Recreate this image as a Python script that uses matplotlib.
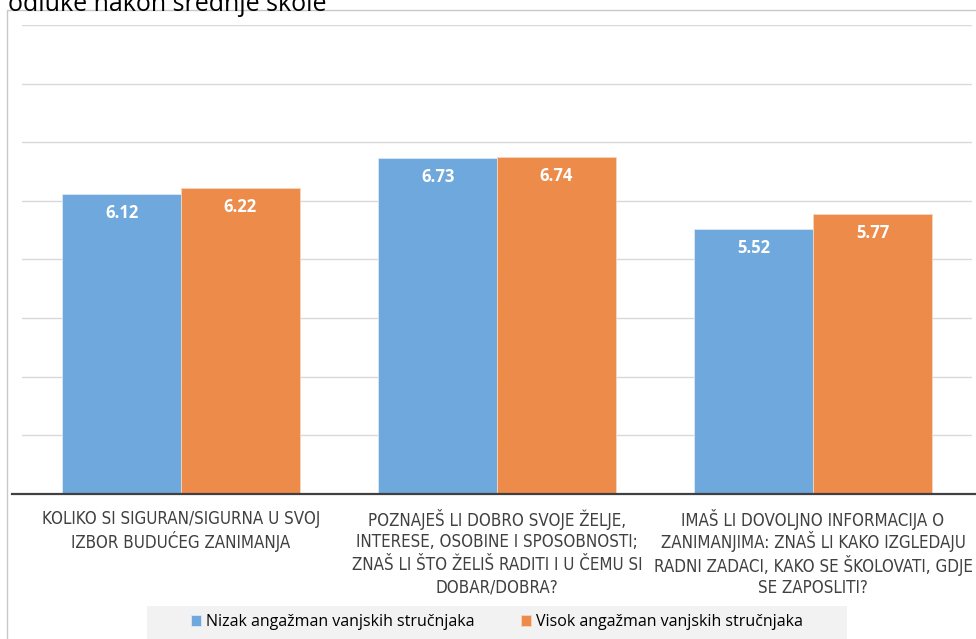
import matplotlib.pyplot as plt
import numpy as np
from matplotlib.patches import Rectangle
from matplotlib.lines import Line2D

categories = [
    'KOLIKO SI SIGURAN/SIGURNA U SVOJ\nIZBOR BUDUĆEG ZANIMANJA',
    'POZNAJEŠ LI DOBRO SVOJE ŽELJE,\nINTERESE, OSOBINE I SPOSOBNOSTI;\nZNAŠ LI ŠTO ŽELIŠ RADITI I U ČEMU SI\nDOBAR/DOBRA?',
    'IMAŠ LI DOVOLJNO INFORMACIJA O\nZANIMANJIMA: ZNAŠ LI KAKO IZGLEDAJU\nRADNI ZADACI, KAKO SE ŠKOLOVATI, GDJE\nSE ZAPOSLITI?',
]
series_names = ['Nizak angažman vanjskih stručnjaka', 'Visok angažman vanjskih stručnjaka']
nizak = [6.12, 6.73, 5.52]
visok = [6.22, 6.74, 5.77]
title = 'odluke nakon srednje škole'

plt.rcParams['font.family'] = ['DejaVu Sans']

fig = plt.figure(figsize=(9.76, 6.39), dpi=100)
W, H = 976, 639
ax = fig.add_axes([22 / W, 1 - 494 / H, (972 - 22) / W, (494 - 25) / H])

# outer chart frame
fig.patches.append(Rectangle((7 / W, -0.01), 1.0, 1 - 10 / H + 0.01, transform=fig.transFigure,
                             fill=False, edgecolor='#c8c8c8', linewidth=1.0))
fig.text(8 / W, 1 - 11 / H, title, fontsize=18, family=['Open Sans', 'DejaVu Sans'],
         va='baseline', ha='left', color='#000000')

x = np.arange(len(categories))
w = 0.376
colors = ['#6fa8dc', '#ed8b4b']
b1 = ax.bar(x - w / 2, nizak, w, bottom=0, color=colors[0], edgecolor='#dbe8f5', linewidth=0.6,
            label=series_names[0], zorder=3)
b2 = ax.bar(x + w / 2, visok, w, bottom=0, color=colors[1], edgecolor='#f5d5c0', linewidth=0.6,
            label=series_names[1], zorder=3)

for bars, vals in ((b1, nizak), (b2, visok)):
    for r, v in zip(bars, vals):
        ax.annotate('{:.2f}'.format(v), xy=(r.get_x() + r.get_width() / 2, v),
                    xytext=(0, -13.5), textcoords='offset points', ha='center', va='center',
                    color='white', fontweight='bold', fontsize=12,
                    family=['Open Sans', 'DejaVu Sans'], zorder=4)

ax.set_ylim(1, 9)
ax.set_xlim(-0.503, 2.503)
ax.set_yticks(np.arange(2, 10))
ax.yaxis.grid(True, color='#d9d9d9', linewidth=1.0, zorder=0)
ax.tick_params(axis='y', length=0, labelleft=False)
ax.tick_params(axis='x', length=0, labelbottom=False)
for s in ['top', 'right', 'left', 'bottom']:
    ax.spines[s].set_visible(False)
fig.lines.append(Line2D([12 / W, 1.0], [1 - 494 / H, 1 - 494 / H], transform=fig.transFigure,
                        color='#404040', linewidth=1.6, zorder=5))

# category labels, one text per line for even spacing
tr = ax.get_xaxis_transform()
for xi, lab in zip(x, categories):
    for i, line in enumerate(lab.split('\n')):
        y_px = 519 + 23 * i
        ax.text(xi, (494 - y_px) / 469, line, transform=tr, ha='center', va='center',
                fontsize=12.2, color='#404040', fontstretch='condensed', clip_on=False)

# legend background
fig.patches.append(Rectangle((147 / W, -0.01), 700 / W, 33 / H + 0.01,
                             transform=fig.transFigure, facecolor='#f2f2f2', edgecolor='none'))
fig.legend(handles=[b1, b2], labels=series_names, loc='center', ncol=2,
           bbox_to_anchor=(497 / W, 1 - 622 / H), frameon=False,
           handlelength=0.62, handleheight=0.62, handletextpad=0.3, columnspacing=2.9,
           prop={'family': ['Open Sans', 'DejaVu Sans'], 'size': 11.5})

fig.savefig('out.png', dpi=100)
